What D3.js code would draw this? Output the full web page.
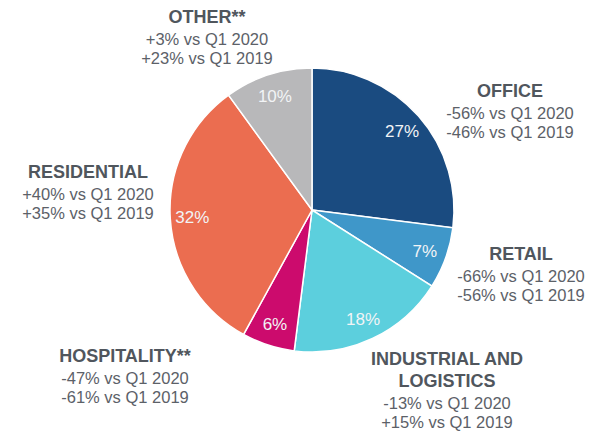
<!DOCTYPE html>
<html lang="en">
<head>
    <meta charset="UTF-8">
    <title>Investment by sector</title>
    <script src="https://d3js.org/d3.v7.min.js"></script>
    <style>
        body { margin: 0; background: #fff; }
        svg { display: block; font-family: "Liberation Sans", Arial, sans-serif; }
    </style>
</head>
<body>
    <svg width="589" height="431"></svg>
    <script>
        // data, clockwise from 12 o'clock
        const sectors = ["OFFICE", "RETAIL", "INDUSTRIAL AND LOGISTICS", "HOSPITALITY**", "RESIDENTIAL", "OTHER**"];
        const shares = [27, 7, 18, 6, 32, 10];
        const vsQ12020 = ["-56%", "-66%", "-13%", "-47%", "+40%", "+3%"];
        const vsQ12019 = ["-46%", "-56%", "+15%", "-61%", "+35%", "+23%"];
        const colors = ["#1a4b80", "#3f97c9", "#5ccfdd", "#cc0b6d", "#eb6d50", "#b8b8ba"];

        // where each sector's caption sits: [x, y of title baseline, title lines]
        const captions = [
            {x: 510, y: 97, title: ["OFFICE"]},
            {x: 521, y: 260, title: ["RETAIL"]},
            {x: 447, y: 365, title: ["INDUSTRIAL AND", "LOGISTICS"]},
            {x: 125, y: 362, title: ["HOSPITALITY**"]},
            {x: 88, y: 178, title: ["RESIDENTIAL"]},
            {x: 207, y: 23, title: ["OTHER**"]}
        ];

        const svg = d3.select("svg");
        const cx = 312, cy = 210, radius = 142;

        const pie = d3.pie().sort(null).value(d => d)(shares);
        const arc = d3.arc().innerRadius(0).outerRadius(radius);
        const labelArc = d3.arc().innerRadius(120).outerRadius(120);

        const g = svg.append("g").attr("transform", `translate(${cx},${cy})`);

        g.selectAll("path")
            .data(pie)
            .join("path")
            .attr("d", arc)
            .attr("fill", (d, i) => colors[i])
            .attr("stroke", "#fff")
            .attr("stroke-width", 1.5);

        g.selectAll("text.pct")
            .data(pie)
            .join("text")
            .attr("class", "pct")
            .attr("transform", d => `translate(${labelArc.centroid(d)})`)
            .attr("text-anchor", "middle")
            .attr("dy", "0.35em")
            .attr("fill", "#f2f4f6")
            .attr("font-size", 17)
            .text(d => d.data + "%");

        // sector captions
        captions.forEach((c, i) => {
            const t = svg.append("text")
                .attr("text-anchor", "middle")
                .attr("fill", "#5c6168");
            let y = c.y;
            c.title.forEach((line, k) => {
                if (k > 0) y += 22;
                t.append("tspan")
                    .attr("x", c.x).attr("y", y)
                    .attr("font-weight", "bold")
                    .attr("font-size", 18)
                    .attr("fill", "#50565d")
                    .text(line);
            });
            y += 22;
            t.append("tspan").attr("x", c.x).attr("y", y)
                .attr("font-size", 16.5)
                .text(`${vsQ12020[i]} vs Q1 2020`);
            y += 19;
            t.append("tspan").attr("x", c.x).attr("y", y)
                .attr("font-size", 16.5)
                .text(`${vsQ12019[i]} vs Q1 2019`);
        });
    </script>
</body>
</html>
